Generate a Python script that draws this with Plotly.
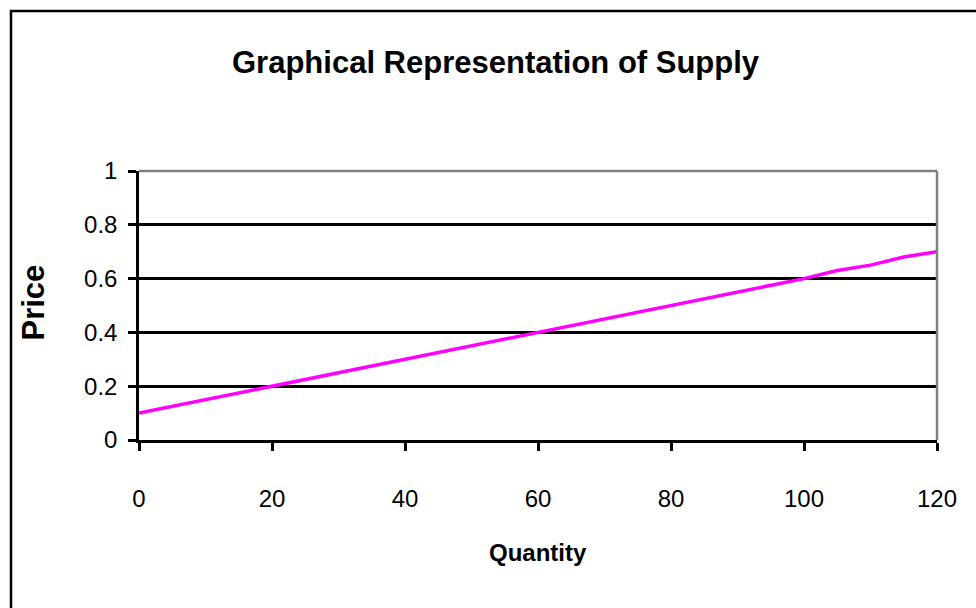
import plotly.graph_objects as go

# Supply schedule
quantity = [0, 20, 40, 60, 80, 100, 105, 110, 115, 120]
price = [0.10, 0.20, 0.30, 0.40, 0.50, 0.60, 0.63, 0.65, 0.68, 0.70]

x_ticks = [0, 20, 40, 60, 80, 100, 120]
y_ticks = [0, 0.2, 0.4, 0.6, 0.8, 1]
y_tick_text = ["0", "0.2", "0.4", "0.6", "0.8", "1"]

title_text = "Graphical Representation of Supply"
x_title = "Quantity"
y_title = "Price"

FONT = "Liberation Sans, Arial, sans-serif"

fig = go.Figure()
fig.add_trace(go.Scatter(
    x=quantity, y=price, mode="lines",
    line=dict(color="#FF00FF", width=3.5),
    hoverinfo="skip", showlegend=False,
))

fig.update_layout(
    width=976, height=608,
    margin=dict(l=139, r=39, t=171, b=168),
    paper_bgcolor="white", plot_bgcolor="white",
    showlegend=False,
    xaxis=dict(
        range=[0, 120], tickvals=x_ticks, ticktext=[str(v) for v in x_ticks],
        showgrid=False, zeroline=False,
        showline=True, linecolor="black", linewidth=2.5,
        ticks="outside", ticklen=8, tickwidth=2.5, tickcolor="black",
        ticklabelstandoff=27,
        tickfont=dict(family=FONT, size=24, color="black"),
    ),
    yaxis=dict(
        range=[0, 1], tickvals=y_ticks, ticktext=y_tick_text,
        showgrid=True, gridcolor="black", gridwidth=2.5, zeroline=False,
        showline=True, linecolor="black", linewidth=2.5,
        ticks="outside", ticklen=8, tickwidth=2.5, tickcolor="black",
        ticklabelstandoff=6,
        tickfont=dict(family=FONT, size=24, color="black"),
    ),
    annotations=[
        dict(text="<b>" + title_text + "</b>", xref="paper", yref="paper",
             x=(496 - 139) / 798, y=1 + (171 - 62) / 269,
             xanchor="center", yanchor="middle", showarrow=False,
             font=dict(family=FONT, size=31, color="black")),
        dict(text="<b>" + x_title + "</b>", xref="paper", yref="paper",
             x=0.5, y=-(552 - 440) / 269,
             xanchor="center", yanchor="middle", showarrow=False,
             font=dict(family=FONT, size=24, color="black")),
        dict(text="<b>" + y_title + "</b>", xref="paper", yref="paper",
             x=-(139 - 33) / 798, y=0.5 + 3 / 269, textangle=-90,
             xanchor="center", yanchor="middle", showarrow=False,
             font=dict(family=FONT, size=31, color="black")),
    ],
    shapes=[
        # gray plot-area border on top and right
        dict(type="line", xref="paper", yref="paper", x0=0, x1=1, y0=1, y1=1,
             line=dict(color="#808080", width=2.5), layer="above"),
        dict(type="line", xref="paper", yref="paper", x0=1, x1=1, y0=0, y1=1,
             line=dict(color="#808080", width=2.5), layer="above"),
        # chart frame
        dict(type="rect", xref="paper", yref="paper",
             x0=-(139 - 11) / 798, x1=1.2, y0=-1.5, y1=1 + (171 - 11) / 269,
             line=dict(color="black", width=2.5), fillcolor="rgba(0,0,0,0)",
             layer="below"),
    ],
)

fig.write_html("out.html")
